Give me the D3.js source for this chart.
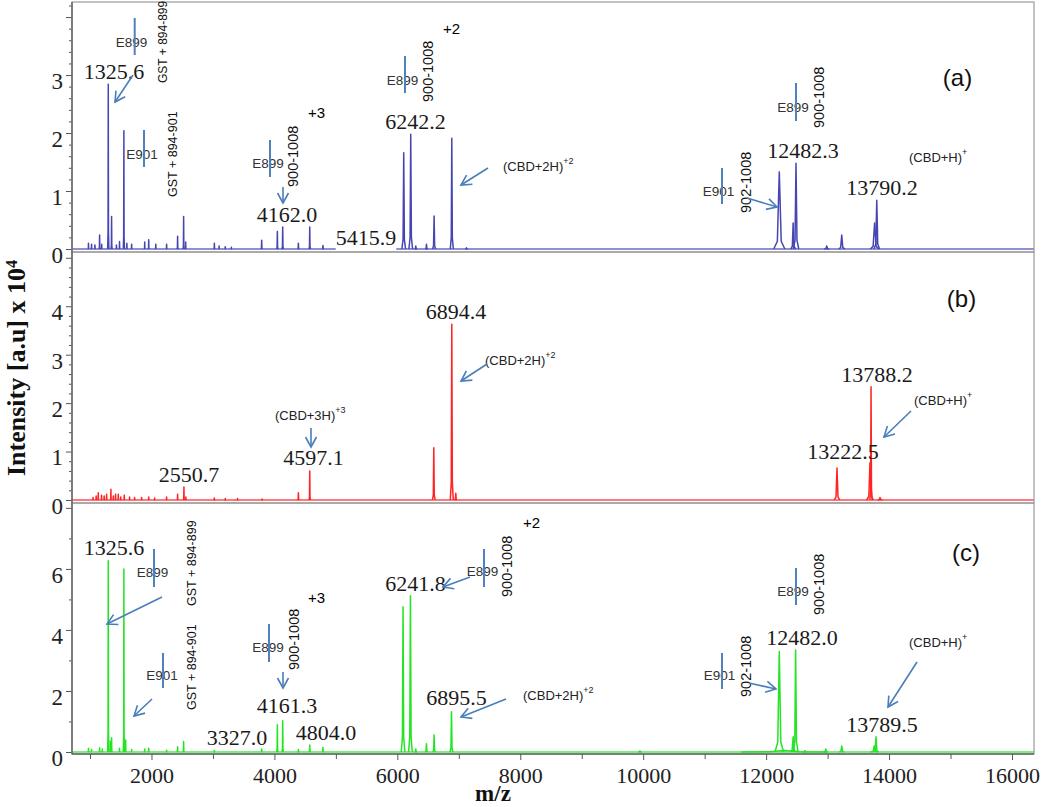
<!DOCTYPE html>
<html><head><meta charset="utf-8">
<script src="https://cdn.jsdelivr.net/npm/d3@7"></script>
<style>body{margin:0;background:#fff} svg{display:block}</style>
</head><body>
<svg id="chart" width="1050" height="807"></svg>
<script>
// ---------------- DATA ----------------
const mzDomain = [707, 16358];
const xMajorTicks = [2000, 4000, 6000, 8000, 10000, 12000, 14000, 16000];
const xMinorTicks = [1000, 3000, 5000, 7000, 9000, 11000, 13000, 15000];

// y axis ranges (intensity x 10^4) and tick labels per panel
const yDomainA = [-0.052, 4.26], yMajorA = [0, 1, 2, 3, 4], yLabelsA = [0, 1, 2, 3];
const yDomainB = [-0.062, 5.12], yMajorB = [0, 1, 2, 3, 4, 5], yLabelsB = [0, 1, 2, 3, 4];
const yDomainC = [-0.066, 8.16], yMajorC = [0, 2, 4, 6, 8], yLabelsC = [0, 2, 4, 6];

// Panel (a) peaks: m/z, intensity, half width at base (m/z)
const aMz  = [975, 1025, 1080, 1156, 1190, 1297, 1351, 1430, 1480, 1551, 1600, 1677, 1890, 1955, 2070, 2246, 2425, 2523, 2556, 3023, 3100, 3200, 3300, 3793, 4048, 4135, 4390, 4575, 4790,
              6104, 6218, 6300, 6474, 6598, 6886, 7125,
              12214, 12440, 12486, 12986, 13230, 13765, 13800];
const aInt = [0.10, 0.08, 0.07, 0.24, 0.08, 2.84, 0.56, 0.07, 0.13, 2.04, 0.10, 0.08, 0.12, 0.16, 0.08, 0.08, 0.22, 0.56, 0.12, 0.10, 0.05, 0.04, 0.03, 0.15, 0.30, 0.38, 0.10, 0.38, 0.06,
              1.66, 1.98, 0.05, 0.08, 0.57, 1.91, 0.02,
              1.33, 0.45, 1.48, 0.05, 0.24, 0.45, 0.84];
const aHw  = [8, 8, 8, 10, 8, 10, 10, 8, 8, 10, 8, 8, 8, 8, 8, 8, 10, 10, 8, 10, 8, 8, 8, 12, 12, 12, 12, 12, 12,
              30, 30, 20, 20, 25, 25, 20,
              90, 40, 45, 40, 50, 70, 45];

// Panel (b) peaks
const bMz  = [1050, 1100, 1134, 1188, 1230, 1270, 1340, 1380, 1416, 1460, 1500, 1557, 1644, 1726, 1840, 1955, 2051, 2246, 2425, 2528, 2560, 3023, 3200, 3400, 3800, 4390, 4575,
              6593, 6886, 6951,
              13153, 13690, 13707, 13853];
const bInt = [0.05, 0.08, 0.15, 0.10, 0.08, 0.12, 0.22, 0.08, 0.12, 0.12, 0.06, 0.10, 0.06, 0.05, 0.05, 0.06, 0.04, 0.06, 0.12, 0.27, 0.06, 0.04, 0.03, 0.03, 0.02, 0.15, 0.60,
              1.08, 3.63, 0.14,
              0.66, 0.77, 2.34, 0.05];
const bHw  = [8, 8, 8, 8, 8, 8, 8, 8, 8, 8, 8, 8, 8, 8, 8, 8, 8, 8, 8, 10, 8, 10, 10, 10, 10, 12, 12,
              22, 25, 20,
              45, 55, 20, 40];

// Panel (c) peaks
const cMz  = [975, 1025, 1156, 1200, 1297, 1330, 1351, 1480, 1551, 1580, 1677, 1890, 1955, 2246, 2425, 2523, 3023, 3793, 4048, 4135, 4390, 4575, 4790,
              6093, 6213, 6300, 6474, 6598, 6881, 9946,
              12300, 12214, 12440, 12480, 12630, 12970, 13230, 13760, 13788];
const cInt = [0.12, 0.08, 0.14, 0.10, 6.27, 0.35, 0.47, 0.12, 6.00, 0.39, 0.08, 0.10, 0.12, 0.06, 0.17, 0.34, 0.05, 0.10, 0.89, 1.02, 0.08, 0.23, 0.15,
              4.76, 5.12, 0.10, 0.27, 0.56, 1.32, 0.04,
              0.05, 3.29, 0.50, 3.34, 0.05, 0.10, 0.20, 0.20, 0.50];
const cHw  = [8, 8, 8, 8, 10, 8, 10, 8, 10, 8, 8, 8, 8, 8, 10, 10, 10, 12, 12, 12, 12, 12, 12,
              30, 30, 20, 20, 22, 25, 30,
              700, 70, 50, 40, 30, 30, 40, 60, 40];

// ---------------- LAYOUT ----------------
const L = 72, R = 1034;
const panels = [
  {top: 2, bottom: 252, dom: yDomainA, major: yMajorA, labels: yLabelsA, minorStep: 0.2, minorMax: 4.2,
   mz: aMz, val: aInt, hw: aHw, color: '#4646b2'},
  {top: 252, bottom: 503, dom: yDomainB, major: yMajorB, labels: yLabelsB, minorStep: 0.2, minorMax: 5.0,
   mz: bMz, val: bInt, hw: bHw, color: '#ff2424'},
  {top: 503, bottom: 754, dom: yDomainC, major: yMajorC, labels: yLabelsC, minorStep: 1, minorMax: 8,
   mz: cMz, val: cInt, hw: cHw, color: '#24e424'}
];

const serif = "'Liberation Serif','Times New Roman',serif";
const sans = "'Liberation Sans',Arial,sans-serif";
const svg = d3.select('#chart');
const x = d3.scaleLinear().domain(mzDomain).range([L, R]);

const defs = svg.append('defs');
defs.append('marker').attr('id', 'arr').attr('markerUnits', 'userSpaceOnUse')
  .attr('markerWidth', 14).attr('markerHeight', 14).attr('refX', 11).attr('refY', 7)
  .attr('orient', 'auto')
  .append('path').attr('d', 'M1,1.5 L11,7 L1,12.5').attr('fill', 'none')
  .attr('stroke', '#4a7ebb').attr('stroke-width', 1.6);

// peak glyph template (relative half-width, relative height)
const glyph = [[-1, 0], [-0.35, 0.1], [0, 1], [0.35, 0.1], [1, 0]];

panels.forEach(p => {
  p.y = d3.scaleLinear().domain(p.dom).range([p.bottom, p.top]);
  const g = svg.append('g');
  const line = d3.line().x(d => x(d[0])).y(d => p.y(d[1]));
  g.append('path').attr('d', line([[mzDomain[0], 0], [mzDomain[1], 0]]))
    .attr('stroke', p.color).attr('stroke-width', 1.3).attr('fill', 'none').attr('opacity', 0.8);
  p.mz.forEach((m, i) => {
    const pts = glyph.map(([dx, dy]) => [m + dx * p.hw[i], dy * p.val[i]]);
    g.append('path').attr('d', line(pts)).attr('fill', 'none')
      .attr('stroke', p.color).attr('stroke-width', 1.5).attr('stroke-linejoin', 'round');
  });
  const minor = d3.range(0, p.minorMax + 1e-9, p.minorStep).filter(v => !p.major.some(M => Math.abs(M - v) < 1e-6));
  const gm = svg.append('g').attr('transform', `translate(${L},0)`)
    .call(d3.axisLeft(p.y).tickValues(minor).tickSize(3).tickFormat(''));
  gm.select('.domain').remove();
  gm.selectAll('line').attr('stroke', '#555');
  const ga = svg.append('g').attr('transform', `translate(${L},0)`)
    .call(d3.axisLeft(p.y).tickValues(p.major).tickSize(6).tickPadding(3)
      .tickFormat(d => p.labels.includes(d) ? d : ''));
  ga.select('.domain').remove();
  ga.selectAll('line').attr('stroke', '#555');
  ga.selectAll('text').attr('font-family', serif).attr('font-size', 23).attr('fill', '#222')
    .attr('y', 6);
  svg.append('rect').attr('x', L).attr('y', p.top).attr('width', R - L).attr('height', p.bottom - p.top)
    .attr('fill', 'none').attr('stroke', '#9a9a9a').attr('stroke-width', 1.2);
});

svg.append('line').attr('x1', L).attr('x2', L).attr('y1', 2).attr('y2', 754).attr('stroke', '#666').attr('stroke-width', 1.5);
svg.append('line').attr('x1', L).attr('x2', R).attr('y1', 754).attr('y2', 754).attr('stroke', '#666').attr('stroke-width', 1.5);

const gxm = svg.append('g').attr('transform', 'translate(0,754)')
  .call(d3.axisBottom(x).tickValues(xMinorTicks).tickSize(5).tickFormat(''));
gxm.select('.domain').remove();
gxm.selectAll('line').attr('stroke', '#555');
const gx = svg.append('g').attr('transform', 'translate(0,754)')
  .call(d3.axisBottom(x).tickValues(xMajorTicks).tickSize(6).tickPadding(7).tickFormat(d3.format('d')));
gx.select('.domain').remove();
gx.selectAll('line').attr('stroke', '#555');
gx.selectAll('text').attr('font-family', serif).attr('font-size', 22).attr('fill', '#222');

svg.append('text').attr('x', 493).attr('y', 801).attr('text-anchor', 'middle')
  .attr('font-family', serif).attr('font-weight', 'bold').attr('font-size', 23).attr('fill', '#111').text('m/z');

const yt = svg.append('text').attr('transform', 'translate(25,368) rotate(-90)').attr('text-anchor', 'middle')
  .attr('font-family', serif).attr('font-weight', 'bold').attr('font-size', 26).attr('fill', '#111');
yt.append('tspan').text('Intensity [a.u] x 10');
yt.append('tspan').attr('font-size', 16).attr('dy', -8).text('4');

// ---------------- ANNOTATIONS (pixel layout) ----------------
const peakLabels = [
  ['1325.6', 114, 79], ['4162.0', 287, 222], ['5415.9', 366, 245, true], ['6242.2', 415.5, 129],
  ['12482.3', 803, 158], ['13790.2', 882, 195],
  ['6894.4', 456, 319], ['4597.1', 313.5, 465], ['2550.7', 189, 482], ['13788.2', 877, 382], ['13222.5', 843, 459],
  ['1325.6', 114, 555], ['4161.3', 287, 713], ['3327.0', 237, 745], ['4804.0', 326, 740],
  ['6241.8', 415.5, 591], ['6895.5', 456.5, 705], ['12482.0', 802, 645], ['13789.5', 882, 732]
];
peakLabels.forEach(([t, cx, by, bg]) => {
  const tx = svg.append('text').attr('x', cx).attr('y', by).attr('text-anchor', 'middle')
    .attr('font-family', serif).attr('font-size', 22).attr('fill', '#1a1a1a').text(t);
  if (bg) {
    const bb = tx.node().getBBox();
    svg.insert('rect', () => tx.node()).attr('x', bb.x).attr('y', bb.y).attr('width', bb.width).attr('height', bb.height).attr('fill', '#fff');
  }
});

const rotLabels = [
  ['GST + 894-899', 163, 83, 12], ['GST + 894-901', 173, 197, 12.5], ['900-1008', 293, 187, 14.5],
  ['900-1008', 428, 102, 14.5], ['900-1008', 819, 128, 14.5], ['902-1008', 746, 213, 14.5],
  ['GST + 894-899', 192, 606, 12.5], ['GST + 894-901', 192, 710, 12.5], ['900-1008', 294, 670, 14.5],
  ['900-1008', 507, 597, 14.5], ['900-1008', 819, 615, 14.5], ['902-1008', 746, 697, 14.5]
];
rotLabels.forEach(([t, cx, by, fs]) => {
  svg.append('text').attr('transform', `translate(${cx},${by}) rotate(-90)`).attr('dominant-baseline', 'central')
    .attr('font-family', sans).attr('font-size', fs).attr('fill', '#111').text(t);
});

const eLabels = [
  ['E899', 131.5, 42, 134.7, 18, 55], ['E901', 142, 154, 144, 130, 167], ['E899', 268, 163, 270, 140, 177],
  ['E899', 402.5, 80, 405, 56, 93], ['E899', 793, 107, 796, 83, 121], ['E901', 718.5, 191, 722, 168, 204],
  ['E899', 152.5, 572, 154, 549, 587], ['E901', 162, 675, 163, 653, 688], ['E899', 268, 647, 269, 624, 662],
  ['E899', 482.5, 571, 484, 549, 587], ['E899', 793, 591, 796, 568, 605], ['E901', 719.5, 675, 722, 653, 689]
];
eLabels.forEach(([t, cx, cy, lx, y1, y2]) => {
  svg.append('text').attr('x', cx).attr('y', cy).attr('text-anchor', 'middle').attr('dominant-baseline', 'central')
    .attr('font-family', sans).attr('font-size', 13.5).attr('fill', '#333').text(t);
  svg.append('line').attr('x1', lx).attr('x2', lx).attr('y1', y1).attr('y2', y2)
    .attr('stroke', '#4f81bd').attr('stroke-width', 2);
});

function ion(base, sup, x0, cy) {
  const t = svg.append('text').attr('x', x0).attr('y', cy).attr('dominant-baseline', 'central')
    .attr('font-family', sans).attr('font-size', 13).attr('fill', '#222');
  t.append('tspan').text(base);
  t.append('tspan').attr('font-size', 9).attr('dy', -5).text(sup);
}
ion('(CBD+2H)', '+2', 503, 166); ion('(CBD+H)', '+', 909, 157);
ion('(CBD+2H)', '+2', 485, 360); ion('(CBD+3H)', '+3', 275, 415); ion('(CBD+H)', '+', 914, 400);
ion('(CBD+2H)', '+2', 523, 695); ion('(CBD+H)', '+', 909, 642);

const plain = [['+3', 316.5, 112], ['+2', 451.5, 28], ['+3', 316.5, 597], ['+2', 531.5, 522]];
plain.forEach(([t, cx, cy]) => svg.append('text').attr('x', cx).attr('y', cy).attr('text-anchor', 'middle')
  .attr('dominant-baseline', 'central').attr('font-family', sans).attr('font-size', 15).attr('fill', '#000').text(t));

[['(a)', 957.5, 77], ['(b)', 961.5, 298], ['(c)', 966, 552]].forEach(([t, cx, cy]) =>
  svg.append('text').attr('x', cx).attr('y', cy).attr('text-anchor', 'middle').attr('dominant-baseline', 'central')
    .attr('font-family', sans).attr('font-size', 24).attr('fill', '#111').text(t));

const arrows = [
  [133, 75, 115, 102], [283, 187, 283, 203], [488, 168, 461, 185], [747, 198, 777, 207],
  [487, 364, 461, 381], [311, 428, 311, 447], [911, 411, 884, 437],
  [162, 597, 107, 624], [152, 699, 134, 716], [283, 672, 283, 688], [470, 577, 443, 587],
  [506, 699, 461, 717], [917, 662, 888, 707], [749, 683, 776, 689]
];
arrows.forEach(([x1, y1, x2, y2]) => svg.append('line').attr('x1', x1).attr('y1', y1).attr('x2', x2).attr('y2', y2)
  .attr('stroke', '#4a7ebb').attr('stroke-width', 1.6).attr('marker-end', 'url(#arr)'));
</script>
</body></html>
